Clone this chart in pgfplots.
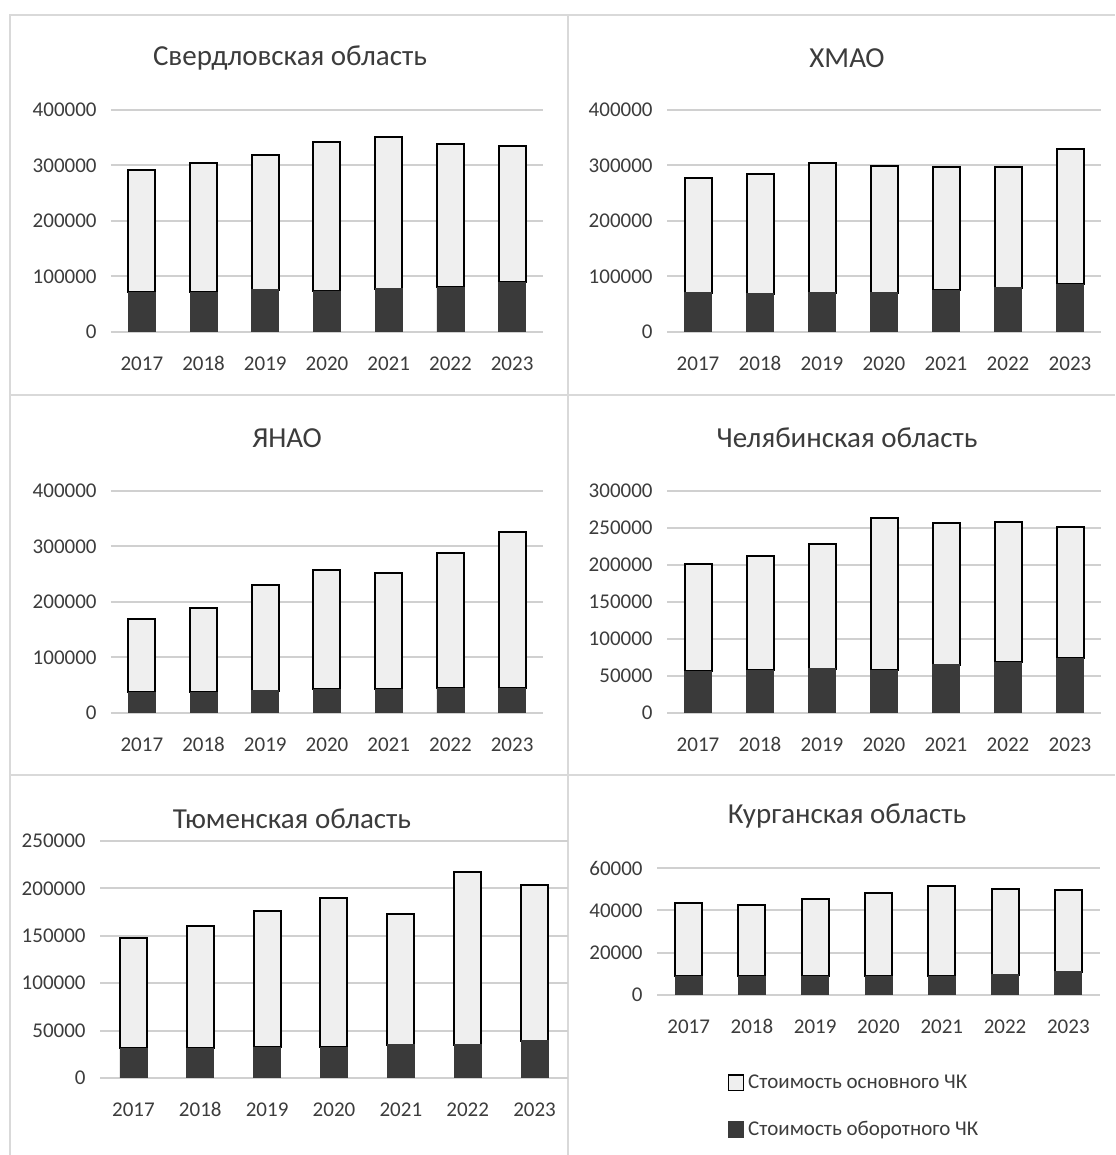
\documentclass[border=0pt]{standalone}
\usepackage{fontspec}
\setmainfont{Carlito}
\usepackage{pgfplots}
\pgfplotsset{compat=1.18}
\usepackage{pgfplotstable}

\definecolor{txt}{HTML}{3C3C3C}
\definecolor{grd}{HTML}{D0D0D0}
\definecolor{bord}{HTML}{D9D9D9}
\definecolor{dark}{HTML}{3A3A3A}
\definecolor{lite}{HTML}{EFEFEF}

% x = year index (2017 -> 0), d = оборотный ЧК, l = основной ЧК
\pgfplotstableread{
x d l
0 72000 220000
1 72000 232000
2 76000 243000
3 74000 269000
4 78000 273000
5 81000 258000
6 90000 245000
}\sverd
\pgfplotstableread{
x d l
0 71000 207000
1 69000 215500
2 71000 234000
3 71000 228500
4 75000 222000
5 80000 216500
6 86000 243600
}\hmao
\pgfplotstableread{
x d l
0 37000 132000
1 37000 153000
2 40500 189500
3 43000 214500
4 43000 208500
5 45000 243500
6 45000 280700
}\yanao
\pgfplotstableread{
x d l
0 56300 145500
1 57700 154500
2 59900 168000
3 57700 205800
4 65300 191500
5 68900 189700
6 74300 177100
}\chel
\pgfplotstableread{
x d l
0 31300 116900
1 31300 129200
2 32300 143600
3 32300 157300
4 35100 138000
5 35100 181900
6 39300 164400
}\tyum
\pgfplotstableread{
x d l
0 9000 34400
1 9000 33600
2 9000 36300
3 9000 39200
4 9000 42300
5 9500 40700
6 11100 38600
}\kurg

\pgfplotsset{
  panel/.style={
    scale only axis, anchor=south west,
    ybar stacked, bar width=13.5pt,
    xmin=-0.5, xmax=6.5, ymin=0,
    xtick={0,...,6}, xticklabels={2017,2018,2019,2020,2021,2022,2023},
    axis line style={draw=none}, major tick length=0pt,
    ymajorgrids, grid style={grd, line width=1pt},
    tick label style={font=\fontsize{10.5}{12}\selectfont, text=txt, inner sep=0pt},
    xticklabel style={anchor=base, yshift=-19.5pt},
    yticklabel style={anchor=east, xshift=-7pt},
    /pgf/number format/fixed,
    /pgf/number format/1000 sep={},
    /pgf/number format/assume math mode=true,
    scaled y ticks=false,
  },
  sq legend/.style={legend image code/.code={
    \draw[##1, line width=0.8pt] (0pt,-3.8pt) rectangle (7.5pt,3.8pt);}},
  dk/.style={fill=dark, draw=dark, sq legend},
  lt/.style={fill=lite, draw=black, line width=1pt, sq legend},
}
\tikzset{ttl/.style={font=\fontsize{14.5}{16}\selectfont, text=txt}}

\begin{document}
\begin{tikzpicture}[x=0.5pt, y=0.5pt]
\fill[white] (0,0) rectangle (1115,1155);
\path[use as bounding box] (0,0) rectangle (1115,1155);

% panel frames
\draw[bord, line width=1pt] (10,0) -- (10,1140) -- (1115,1140);
\draw[bord, line width=1pt] (568,0) -- (568,1140);
\draw[bord, line width=1pt] (10,760) -- (1115,760);
\draw[bord, line width=1pt] (10,380) -- (1115,380);

% Свердловская
\begin{axis}[panel, at={(55.5pt,411.5pt)}, width=216pt, height=111pt,
  ymax=400000, ytick distance=100000]
\addplot[dk] table[x=x, y=d] {\sverd};
\addplot[lt] table[x=x, y=l] {\sverd};
\end{axis}

% ХМАО
\begin{axis}[panel, at={(333.5pt,411.5pt)}, width=217pt, height=111pt,
  ymax=400000, ytick distance=100000]
\addplot[dk] table[x=x, y=d] {\hmao};
\addplot[lt] table[x=x, y=l] {\hmao};
\end{axis}

% ЯНАО
\begin{axis}[panel, at={(55.5pt,221pt)}, width=216pt, height=111pt,
  ymax=400000, ytick distance=100000]
\addplot[dk] table[x=x, y=d] {\yanao};
\addplot[lt] table[x=x, y=l] {\yanao};
\end{axis}

% Челябинская
\begin{axis}[panel, at={(333.5pt,221pt)}, width=217pt, height=111pt,
  ymax=300000, ytick distance=50000]
\addplot[dk] table[x=x, y=d] {\chel};
\addplot[lt] table[x=x, y=l] {\chel};
\end{axis}

% Тюменская
\begin{axis}[panel, at={(50pt,38.5pt)}, width=234pt, height=118.5pt,
  ymax=250000, ytick distance=50000]
\addplot[dk] table[x=x, y=d] {\tyum};
\addplot[lt] table[x=x, y=l] {\tyum};
\end{axis}

% Курганская + legend
\begin{axis}[panel, at={(328.5pt,80pt)}, width=221.5pt, height=63.5pt,
  ymax=60000, ytick distance=20000,
  reverse legend,
  legend cell align=left,
  legend style={at={(0.145,-0.56)}, anchor=north west, draw=none, fill=none,
    font=\fontsize{10.5}{12}\selectfont, text=txt, row sep=11pt,
    /tikz/every even column/.append style={column sep=1pt}}]
\addplot[dk] table[x=x, y=d] {\kurg};
\addlegendentry{Стоимость оборотного ЧК}
\addplot[lt] table[x=x, y=l] {\kurg};
\addlegendentry{Стоимость основного ЧК}
\end{axis}

% titles
\node[ttl] at (290,1097) {Свердловская область};
\node[ttl] at (847,1097) {ХМАО};
\node[ttl] at (287,717) {ЯНАО};
\node[ttl] at (847,717) {Челябинская область};
\node[ttl] at (292,336) {Тюменская область};
\node[ttl] at (847,339) {Курганская область};
\end{tikzpicture}
\end{document}
